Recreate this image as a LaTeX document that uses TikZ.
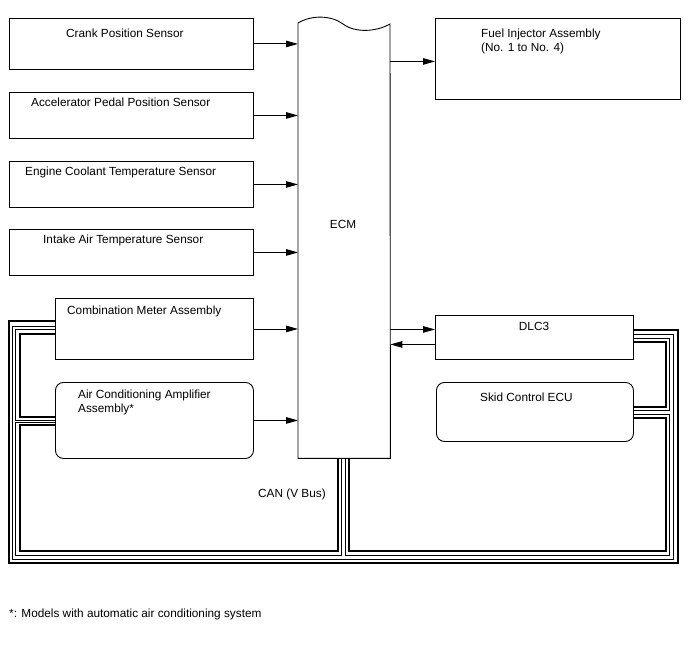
\documentclass[tikz,border=0pt]{standalone}
\usepackage{fontspec}
\setmainfont{Liberation Sans}
\usetikzlibrary{arrows.meta}
\begin{document}
\begin{tikzpicture}[x=1pt,y=-1pt,
  box/.style={draw,line width=0.9pt,inner sep=0pt,anchor=north west},
  rbox/.style={box,rounded corners=8pt},
  txt/.style={inner sep=0pt,anchor=base west,align=left,font=\fontsize{11.8}{14}\selectfont},
  arr/.style={line width=0.9pt,-{Triangle[length=12pt,width=6.5pt]}},
  thickw/.style={line width=2.3pt,line join=miter},
  thinw/.style={line width=0.8pt,line join=miter}]
\useasboundingbox (0,0) rectangle (688,658);
% boxes
\node[box,minimum width=244pt,minimum height=51pt] (crank) at (9,18) {};
\node[box,minimum width=244pt,minimum height=46pt] (accel) at (9,92) {};
\node[box,minimum width=244pt,minimum height=46pt] (engine) at (9,161) {};
\node[box,minimum width=244pt,minimum height=46pt] (intake) at (9,229) {};
\node[box,minimum width=198pt,minimum height=61pt] (comb) at (55,298) {};
\node[rbox,minimum width=198pt,minimum height=76pt] (acamp) at (55,382) {};
\node[inner sep=0pt,anchor=north west,minimum width=92pt,minimum height=440pt] (ecm) at (298,18) {};
\node[box,minimum width=245pt,minimum height=81pt] (fuel) at (435,18) {};
\node[box,minimum width=198pt,minimum height=44pt] (dlc) at (435,315) {};
\node[rbox,minimum width=197pt,minimum height=59pt] (skid) at (436,382) {};
% ECM outline with wavy top
\draw[line width=0.9pt,line join=miter] (ecm.south west) -- (298,23)
  .. controls (311,15) and (331,15) .. (343,24)
  .. controls (355,33) and (376,32) .. (390,24) -- (ecm.south east) -- cycle;
% texts
\node[txt] at (66,37.3) {Crank Position Sensor};
\node[txt] at (31,106.3) {Accelerator Pedal Position Sensor};
\node[txt] at (25,175.3) {Engine Coolant Temperature Sensor};
\node[txt] at (43,243.3) {Intake Air Temperature Sensor};
\node[txt] at (67,314.3) {Combination Meter Assembly};
\node[txt] at (78,412.3) {Air Conditioning Amplifier\\Assembly*};
\node[txt,anchor=base] at (343,228.3) {ECM};
\node[txt] at (481,51.3) {Fuel Injector Assembly\\(No. 1 to No. 4)};
\node[txt,anchor=base] at (534,330.3) {DLC3};
\node[txt] at (480,401.3) {Skid Control ECU};
\node[txt] at (258,497.3) {CAN (V Bus)};
\node[txt] at (9,617.3) {*: Models with automatic air conditioning system};
% arrows
\draw[arr] (crank.east) -- (crank.east -| ecm.west);
\draw[arr] (accel.east) -- (accel.east -| ecm.west);
\draw[arr] (engine.east) -- (engine.east -| ecm.west);
\draw[arr] (intake.east) -- (intake.east -| ecm.west);
\draw[arr] (comb.east) -- (comb.east -| ecm.west);
\draw[arr] (acamp.east) -- (acamp.east -| ecm.west);
\draw[arr] ([yshift=-2.5pt]fuel.west -| ecm.east) -- ([yshift=-2.5pt]fuel.west);
\draw[arr] ([yshift=8pt]dlc.west -| ecm.east) -- ([yshift=8pt]dlc.west);
\draw[arr] ([yshift=-7pt]dlc.west) -- ([yshift=-7pt]dlc.west -| ecm.east);
% CAN bus
\draw[thickw] (comb.west |- 0,321) -- (9,321) -- (9,563) -- (678,563) -- (678,330) -- (dlc.east |- 0,330);
\draw[thinw] (comb.west |- 0,326) -- (12.5,326) -- (12.5,559) -- (673.5,559) -- (673.5,334) -- (dlc.east |- 0,334);
\draw[thickw] (comb.west |- 0,334) -- (20,334) -- (20,417) -- (acamp.west |- 0,417);
\draw[thinw] (comb.west |- 0,329.5) -- (15.5,329.5) -- (15.5,420) -- (acamp.west |- 0,420);
\draw[thickw] (acamp.west |- 0,425) -- (20,425) -- (20,551) -- (338,551) -- (ecm.south -| 338,0);
\draw[thinw] (acamp.west |- 0,422) -- (15.5,422) -- (15.5,555.5) -- (341.5,555.5) -- (ecm.south -| 341.5,0);
\draw[thickw] (ecm.south -| 349,0) -- (349,551) -- (666,551) -- (666,418) -- (skid.east |- 0,418);
\draw[thinw] (ecm.south -| 345.5,0) -- (345.5,555.5) -- (669.5,555.5) -- (669.5,414.5) -- (skid.east |- 0,414.5);
\draw[thickw] (dlc.east |- 0,342) -- (666,342) -- (666,407) -- (skid.east |- 0,407);
\draw[thinw] (dlc.east |- 0,338) -- (669.5,338) -- (669.5,410.5) -- (skid.east |- 0,410.5);
\end{tikzpicture}
\end{document}
